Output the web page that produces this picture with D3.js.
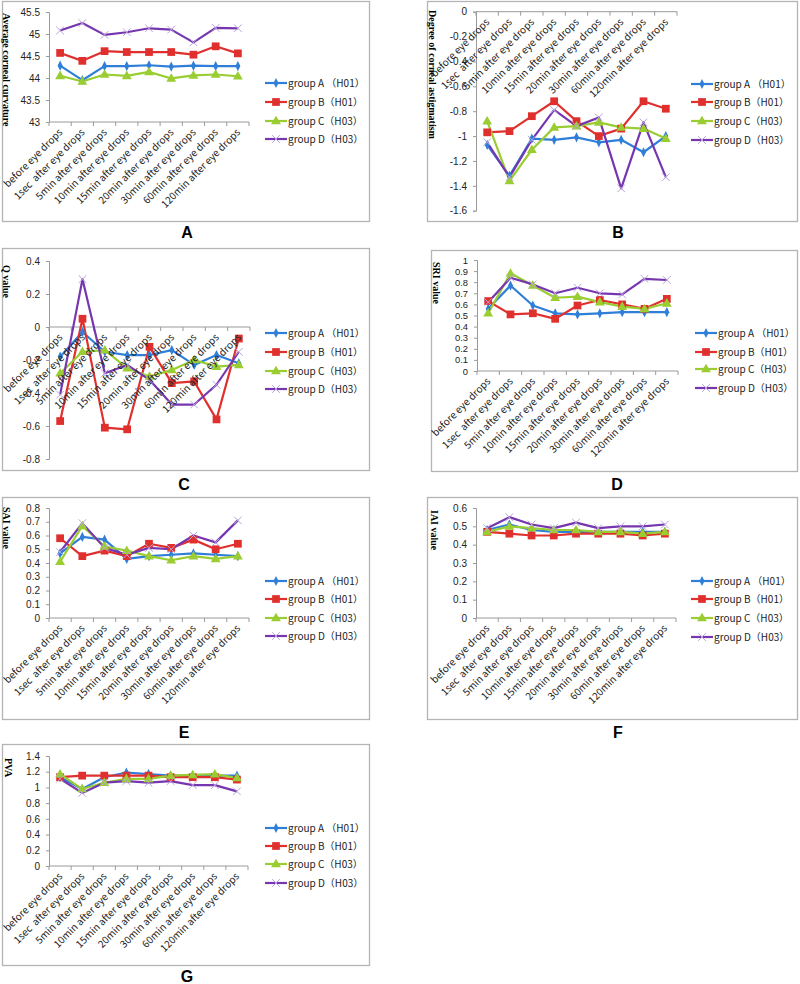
<!DOCTYPE html>
<html><head><meta charset="utf-8">
<script src="https://cdn.jsdelivr.net/npm/d3@7"></script>
<style>body{margin:0;background:#fff} svg{display:block} text{white-space:pre}</style>
</head><body>
<svg id="c" width="800" height="984"></svg>
<script>
// ---------------- DATA ----------------
const categories = ["before eye drops","1sec  after eye drops","5min after eye drops","10min after eye drops","15min after eye drops","20min after eye drops","30min after eye drops","60min after eye drops","120min after eye drops"];
const seriesNames = ["group A \uFF08H01\uFF09","group B\uFF08H01\uFF09","group C\uFF08H03\uFF09","group D\uFF08H03\uFF09"];

const curvature = [
  [44.28,43.95,44.27,44.27,44.29,44.26,44.28,44.27,44.27],
  [44.57,44.39,44.61,44.59,44.59,44.59,44.53,44.72,44.56],
  [44.05,43.92,44.08,44.05,44.14,43.99,44.06,44.08,44.04],
  [45.08,45.25,44.98,45.04,45.13,45.10,44.81,45.14,45.13]];
const astigmatism = [
  [-1.07,-1.32,-1.02,-1.03,-1.01,-1.05,-1.03,-1.13,-1.00],
  [-0.97,-0.96,-0.84,-0.72,-0.88,-1.00,-0.94,-0.72,-0.78],
  [-0.88,-1.36,-1.11,-0.93,-0.92,-0.89,-0.93,-0.94,-1.02],
  [-1.05,-1.33,-1.03,-0.79,-0.92,-0.85,-1.42,-0.89,-1.33]];
const qValue = [
  [-0.18,-0.03,-0.15,-0.17,-0.17,-0.14,-0.23,-0.17,-0.22],
  [-0.57,0.05,-0.61,-0.62,-0.12,-0.34,-0.33,-0.56,-0.07],
  [-0.28,-0.15,-0.14,-0.25,-0.30,-0.26,-0.20,-0.24,-0.23],
  [-0.41,0.29,-0.28,-0.23,-0.32,-0.47,-0.47,-0.35,-0.15]];
const sri = [
  [0.56,0.77,0.59,0.52,0.51,0.52,0.53,0.53,0.53],
  [0.63,0.51,0.52,0.47,0.59,0.64,0.60,0.56,0.65],
  [0.52,0.88,0.77,0.66,0.67,0.62,0.58,0.56,0.61],
  [0.62,0.84,0.78,0.70,0.75,0.70,0.69,0.83,0.82]];
const sai = [
  [0.47,0.59,0.57,0.43,0.45,0.46,0.47,0.46,0.45],
  [0.58,0.45,0.49,0.45,0.54,0.51,0.57,0.50,0.54],
  [0.41,0.67,0.52,0.49,0.45,0.42,0.45,0.43,0.45],
  [0.48,0.69,0.51,0.46,0.51,0.50,0.60,0.55,0.71]];
const iai = [
  [0.48,0.51,0.48,0.47,0.47,0.47,0.47,0.47,0.47],
  [0.47,0.46,0.45,0.45,0.46,0.46,0.46,0.45,0.46],
  [0.47,0.50,0.49,0.48,0.48,0.47,0.47,0.46,0.47],
  [0.49,0.55,0.51,0.49,0.52,0.49,0.50,0.50,0.51]];
const pva = [
  [1.13,0.98,1.13,1.19,1.17,1.15,1.15,1.15,1.15],
  [1.13,1.15,1.15,1.15,1.15,1.13,1.13,1.13,1.10],
  [1.17,0.98,1.06,1.11,1.11,1.15,1.16,1.17,1.12],
  [1.11,0.93,1.06,1.08,1.06,1.08,1.03,1.03,0.95]];

const curvatureTicks = [43,43.5,44,44.5,45,45.5];
const astigmatismTicks = [0,-0.2,-0.4,-0.6,-0.8,-1,-1.2,-1.4,-1.6];
const qTicks = [0.4,0.2,0,-0.2,-0.4,-0.6,-0.8];
const sriTicks = [0,0.1,0.2,0.3,0.4,0.5,0.6,0.7,0.8,0.9,1];
const saiTicks = [0,0.1,0.2,0.3,0.4,0.5,0.6,0.7,0.8];
const iaiTicks = [0,0.1,0.2,0.3,0.4,0.5,0.6];
const pvaTicks = [0,0.2,0.4,0.6,0.8,1,1.2,1.4];

const yTitles = ["Average corneal curvature","Degree of corneal astigmatism","Q value","SRI value","SAI value","IAI value","PVA"];
const panelLetters = ["A","B","C","D","E","F","G"];

// ---------------- LAYOUT ----------------
const colors = ["#2f7ed8","#e0302e","#9acd32","#7636b0"];
const panels = [
  {data:curvature, ticks:curvatureTicks, box:[2,1,367,220], x0:49, x1:249, top:12, bot:122, dom:[43,45.5], lx:265, ly:[83,102,121,139], yt:[3,13], lab:[187,238], tfs:10},
  {data:astigmatism, ticks:astigmatismTicks, box:[427,1,370,220], x0:476, x1:677, top:11.7, bot:210.7, dom:[-1.6,0], lx:691, ly:[84,102,121,140], yt:[429,10], lab:[618,238], tfs:10},
  {data:qValue, ticks:qTicks, box:[2,248,367,222], x0:49, x1:250, top:261, bot:459, dom:[-0.8,0.4], lx:265, ly:[333,352,371,389], yt:[3,265], lab:[184,490], tfs:10},
  {data:sri, ticks:sriTicks, box:[431,250,366,221], x0:477, x1:678, top:260, bot:371, dom:[0,1], lx:695, ly:[333,352,369,388], yt:[433,262], lab:[617,490], tfs:9.4},
  {data:sai, ticks:saiTicks, box:[2,497,367,222], x0:49, x1:249, top:508, bot:618, dom:[0,0.8], lx:265, ly:[581,599,618,636], yt:[3,507], lab:[184,738], tfs:10},
  {data:iai, ticks:iaiTicks, box:[427,497,370,222], x0:476, x1:676, top:508, bot:618, dom:[0,0.6], lx:691, ly:[581,599,618,637], yt:[431,510], lab:[618,738], tfs:10},
  {data:pva, ticks:pvaTicks, box:[2,744,367,221], x0:49, x1:248, top:756, bot:866, dom:[0,1.4], lx:265, ly:[828,846,864,883], yt:[5,758], lab:[187,982], tfs:10}
];

const svg = d3.select("#c");
const tickFont = "'Noto Sans CJK SC','Noto Sans',sans-serif";
const numFont = "'Liberation Sans',Arial,sans-serif";
const axisColor = "#9a9a9a";

function marker(g, s, cx, cy) {
  if (s === 0) {
    g.append("path").attr("d", d3.symbol().type(d3.symbolDiamond).size(30)())
      .attr("transform", `translate(${cx},${cy}) scale(0.85,1)`).attr("fill", colors[0]);
  } else if (s === 1) {
    g.append("path").attr("d", d3.symbol().type(d3.symbolSquare).size(60)())
      .attr("transform", `translate(${cx},${cy})`).attr("fill", colors[1]);
  } else if (s === 2) {
    g.append("path").attr("d", d3.symbol().type(d3.symbolTriangle).size(42)())
      .attr("transform", `translate(${cx},${cy+0.5})`).attr("fill", colors[2]);
  } else {
    g.append("path").attr("d", d3.symbol().type(d3.symbolX).size(40)())
      .attr("transform", `translate(${cx},${cy})`).attr("fill", "none")
      .attr("stroke", "#b9a3dc").attr("stroke-width", 1);
  }
}

panels.forEach((p, pi) => {
  const g = svg.append("g");
  g.append("rect").attr("x", p.box[0]+0.5).attr("y", p.box[1]+0.5)
    .attr("width", p.box[2]).attr("height", p.box[3])
    .attr("fill", "#fff").attr("stroke", "#b4b4b4").attr("stroke-width", 1.3);

  const x = d3.scaleBand().domain(categories).range([p.x0, p.x1]).paddingInner(0).paddingOuter(0);
  const y = d3.scaleLinear().domain(p.dom).range([p.bot, p.top]);
  const xAxisY = (p.dom[0] < 0 && p.dom[1] >= 0) ? y(0) : p.bot;

  // y axis
  const ya = g.append("g").attr("transform", `translate(${p.x0},0)`)
    .call(d3.axisLeft(y).tickValues(p.ticks).tickSize(3).tickPadding(6).tickFormat(d => String(d)));
  ya.select(".domain").attr("stroke", axisColor);
  ya.selectAll(".tick line").attr("stroke", axisColor);
  ya.selectAll(".tick text").attr("font-family", numFont).attr("font-size", p.tfs).attr("fill", "#222");

  // x axis line and boundary ticks
  const xa = g.append("g");
  xa.append("line").attr("x1", p.x0).attr("x2", p.x1).attr("y1", xAxisY).attr("y2", xAxisY).attr("stroke", axisColor);
  const bounds = categories.map(c => x(c)).concat([x(categories[categories.length-1]) + x.bandwidth()]);
  xa.selectAll("line.bt").data(bounds).join("line").attr("class","bt")
    .attr("x1", d => d).attr("x2", d => d).attr("y1", xAxisY).attr("y2", xAxisY + 4).attr("stroke", axisColor);

  // lines + markers
  const line = d3.line().x((d, i) => x(categories[i]) + x.bandwidth()/2).y(d => y(d));
  p.data.forEach((vals, s) => {
    g.append("path").attr("d", line(vals)).attr("fill", "none")
      .attr("stroke", colors[s]).attr("stroke-width", 2.2).attr("stroke-linejoin", "round");
  });
  p.data.forEach((vals, s) => {
    vals.forEach((v, i) => marker(g, s, x(categories[i]) + x.bandwidth()/2, y(v)));
  });

  // category labels
  g.selectAll("text.cat").data(categories).join("text").attr("class", "cat")
    .attr("transform", d => `translate(${x(d) + x.bandwidth()/2 + 3},${xAxisY + 11}) rotate(-45)`)
    .attr("text-anchor", "end").attr("font-family", tickFont).attr("font-size", 10)
    .attr("fill", "#222").text(d => d);

  // y title
  g.append("text").attr("transform", `translate(${p.yt[0]},${p.yt[1]}) rotate(90)`)
    .attr("font-family", "'Liberation Serif','Times New Roman',serif").attr("font-weight", "bold")
    .attr("font-size", 10).attr("fill", "#000").text(yTitles[pi]);

  // legend
  seriesNames.forEach((name, s) => {
    const ly = p.ly[s];
    g.append("line").attr("x1", p.lx).attr("x2", p.lx + 22).attr("y1", ly).attr("y2", ly)
      .attr("stroke", colors[s]).attr("stroke-width", 2.2);
    marker(g, s, p.lx + 11, ly);
    g.append("text").attr("x", p.lx + 23).attr("y", ly).attr("dy", "0.35em")
      .attr("font-family", tickFont).attr("font-size", 10).attr("fill", "#222").text(name);
  });

  // panel letter
  svg.append("text").attr("x", p.lab[0]).attr("y", p.lab[1]).attr("text-anchor", "middle")
    .attr("font-family", "'Liberation Sans',Arial,sans-serif").attr("font-weight", "bold")
    .attr("font-size", 16).attr("fill", "#000").text(panelLetters[pi]);
});
</script>
</body></html>
